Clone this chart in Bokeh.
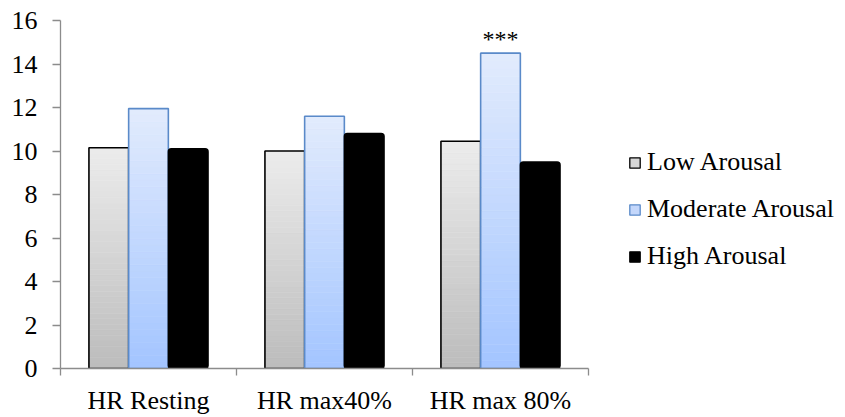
from bokeh.plotting import figure
from bokeh.models import (ColumnDataSource, Range1d, FixedTicker, Legend, LegendItem)
from bokeh.transform import dodge
from bokeh.core.properties import value
from bokeh.embed import file_html
from bokeh.resources import INLINE

# ---------------- data ----------------
categories = ["HR Resting", "HR max40%", "HR max 80%"]
series_names = ["Low Arousal", "Moderate Arousal", "High Arousal"]
low_arousal = [10.15, 10.0, 10.45]
moderate_arousal = [11.95, 11.6, 14.5]
high_arousal = [10.1, 10.8, 9.5]
y_ticks = [0, 2, 4, 6, 8, 10, 12, 14, 16]
sig_category = "HR max 80%"
sig_text = "***"

# ---------------- style ----------------
FONT = "Liberation Serif"
AXIS_COLOR = "#8c8c8c"
BAR_W = 0.2256
N_SLICES = 40

# category slot centres on a numeric axis (slot i spans i..i+1)
n_cat = len(categories)
cat_pos = {c: i + 0.5 for i, c in enumerate(categories)}

W, H = 845, 417
LEFT, PLOT_RIGHT = 60, 588          # pixel extent of the category area
x_end = n_cat * (W - LEFT) / (PLOT_RIGHT - LEFT)   # frame continues under legend

p = figure(width=W, height=H,
           x_range=Range1d(0, x_end),
           y_range=Range1d(0, 16),
           output_backend="svg", toolbar_location=None,
           min_border_left=LEFT, min_border_right=0,
           min_border_top=20, min_border_bottom=47)
p.outline_line_color = None
p.xgrid.visible = False
p.ygrid.visible = False
p.background_fill_color = "white"
p.border_fill_color = "white"

# y axis
ya = p.yaxis[0]
ya.ticker = FixedTicker(ticks=y_ticks)
ya.major_tick_out = 8
ya.major_tick_in = 0
ya.minor_tick_out = 0
ya.minor_tick_in = 0
ya.axis_line_color = AXIS_COLOR
ya.axis_line_width = 1.3
ya.major_tick_line_color = AXIS_COLOR
ya.major_tick_line_width = 1.3
ya.major_label_text_font = FONT
ya.major_label_text_font_size = "26px"
ya.major_label_text_color = "black"
ya.major_label_standoff = 15

# x axis: labels at slot centres, ticks at slot boundaries
xa = p.xaxis[0]
xa.bounds = (0, n_cat)
xa.ticker = FixedTicker(ticks=list(cat_pos.values()),
                        minor_ticks=list(range(n_cat + 1)))
xa.major_label_overrides = {v: c for c, v in cat_pos.items()}
xa.major_tick_out = 0
xa.major_tick_in = 0
xa.minor_tick_out = 7
xa.minor_tick_in = 0
xa.minor_tick_line_color = AXIS_COLOR
xa.minor_tick_line_width = 1.3
xa.axis_line_color = AXIS_COLOR
xa.axis_line_width = 1.3
xa.major_label_text_font = FONT
xa.major_label_text_font_size = "26px"
xa.major_label_text_color = "black"
xa.major_label_standoff = 10


def hex2rgb(h):
    h = h.lstrip("#")
    return tuple(int(h[i:i + 2], 16) for i in (0, 2, 4))


def mix(c_top, c_bot, t):
    a, b = hex2rgb(c_top), hex2rgb(c_bot)
    return "#%02x%02x%02x" % tuple(int(round(a[k] * (1 - t) + b[k] * t)) for k in range(3))


def gradient_bars(vals, offset, c_top, c_bot):
    xs, tops, bots, cols = [], [], [], []
    for c, v in zip(categories, vals):
        for k in range(N_SLICES):
            xs.append(cat_pos[c])
            bots.append(v * k / N_SLICES)
            tops.append(v * (k + 1) / N_SLICES)
            cols.append(mix(c_top, c_bot, 1 - (k + 0.5) / N_SLICES))
    src = ColumnDataSource(dict(x=xs, top=tops, bottom=bots, color=cols))
    p.vbar(x=dodge("x", offset), top="top", bottom="bottom",
           width=BAR_W, fill_color="color", line_color="color", line_width=0.6,
           source=src)


xs_cat = [cat_pos[c] for c in categories]

# Low arousal (grey gradient)
gradient_bars(low_arousal, -BAR_W, "#ececec", "#bcbcbc")
src_low = ColumnDataSource(dict(x=xs_cat, v=low_arousal))
p.vbar(x=dodge("x", -BAR_W), top="v", width=BAR_W,
       fill_color=None, line_color="black", line_width=1.6, source=src_low)

# Moderate arousal (blue gradient)
gradient_bars(moderate_arousal, 0, "#e2ebfd", "#a3c5ff")
src_mod = ColumnDataSource(dict(x=xs_cat, v=moderate_arousal))
p.vbar(x=dodge("x", 0), top="v", width=BAR_W,
       fill_color=None, line_color="#5a8ac9", line_width=1.6, source=src_mod)

# High arousal (black)
src_high = ColumnDataSource(dict(x=xs_cat, v=high_arousal))
p.vbar(x=dodge("x", BAR_W), top="v", width=BAR_W,
       fill_color="black", line_color="black", line_width=1.5,
       line_join="round", border_radius=3, source=src_high)

# significance marker
sig_src = ColumnDataSource(dict(x=[cat_pos[sig_category]],
                                v=[moderate_arousal[categories.index(sig_category)]],
                                t=[sig_text]))
p.text(x="x", y="v", text="t", source=sig_src,
       text_font=value(FONT), text_font_size="24px", text_color="black",
       text_align="center", text_baseline="alphabetic", y_offset=-14)

# legend swatches: hidden renderers sharing the bar data
leg_low = p.vbar(x=dodge("x", -BAR_W), top="v", width=BAR_W, source=src_low,
                 fill_color="#d6d6d6", line_color="black", line_width=1.3,
                 visible=False)
leg_mod = p.vbar(x=dodge("x", 0), top="v", width=BAR_W, source=src_mod,
                 fill_color="#c4d7fb", line_color="#5a8ac9", line_width=1.3,
                 visible=False)
leg_high = p.vbar(x=dodge("x", BAR_W), top="v", width=BAR_W, source=src_high,
                  fill_color="black", line_color="black", line_width=1.3,
                  border_radius=2, visible=False)
legend = Legend(items=[LegendItem(label=series_names[0], renderers=[leg_low]),
                       LegendItem(label=series_names[1], renderers=[leg_mod]),
                       LegendItem(label=series_names[2], renderers=[leg_high])],
                location=(568, 97),
                label_text_font=FONT, label_text_font_size="26px",
                label_text_color="black",
                glyph_width=13, glyph_height=13, label_standoff=6,
                spacing=17, padding=0, margin=0,
                inactive_fill_alpha=0,
                border_line_color=None, background_fill_alpha=0)
p.add_layout(legend)

open("out.html", "w").write(file_html(p, INLINE))
